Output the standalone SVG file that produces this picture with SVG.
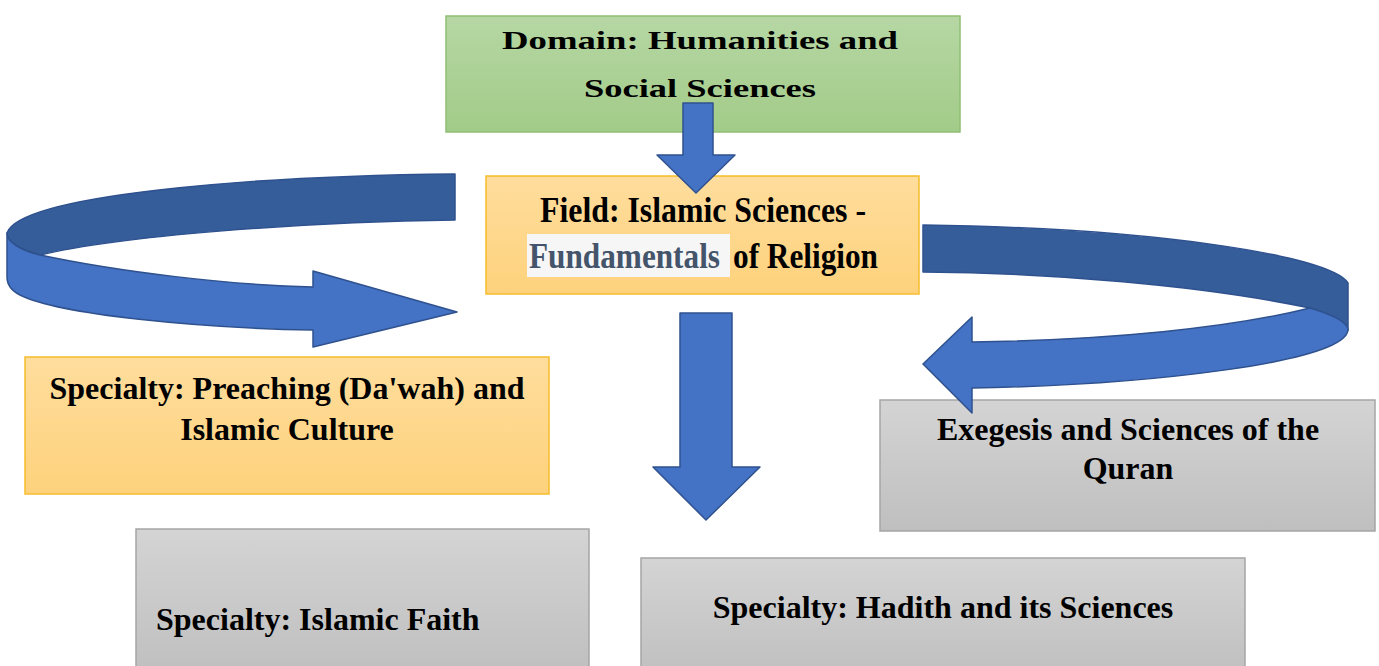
<svg xmlns="http://www.w3.org/2000/svg" width="1379" height="666" viewBox="0 0 1379 666">
<defs>
<linearGradient id="gGreen" x1="0" y1="0" x2="0" y2="1"><stop offset="0" stop-color="#b6d7a4"/><stop offset="1" stop-color="#a2cb88"/></linearGradient>
<linearGradient id="gOrange" x1="0" y1="0" x2="0" y2="1"><stop offset="0" stop-color="#ffdd9d"/><stop offset="1" stop-color="#fed27c"/></linearGradient>
<linearGradient id="gGray" x1="0" y1="0" x2="0" y2="1"><stop offset="0" stop-color="#d4d4d4"/><stop offset="1" stop-color="#bfbfbf"/></linearGradient>
</defs>
<style>
.t{font-family:"Liberation Serif","Times New Roman",serif;font-weight:bold;fill:#000;}
.green{fill:url(#gGreen);stroke:#8fbf74;stroke-width:1.5;}
.orange{fill:url(#gOrange);stroke:#f6bc2a;stroke-width:1.5;}
.gray{fill:url(#gGray);stroke:#a5a5a5;stroke-width:1.5;}
.dark{fill:#355d9a;stroke:#2f528f;stroke-width:1.5;stroke-linejoin:round;}
.light{fill:#4472c4;stroke:#2f528f;stroke-width:1.5;stroke-linejoin:round;}
</style>
<g id="domain">
<rect class="green" x="446" y="16" width="514" height="116"/>
<text class="t" x="502" y="49" font-size="25" textLength="396" lengthAdjust="spacingAndGlyphs" fill="#111">Domain: Humanities and</text>
<text class="t" x="584" y="97" font-size="25" textLength="232" lengthAdjust="spacingAndGlyphs" fill="#111">Social Sciences</text>
</g>
<g id="field">
<rect class="orange" x="486" y="176" width="433" height="118"/>
<text class="t" x="540" y="222" font-size="35" textLength="326" lengthAdjust="spacingAndGlyphs">Field: Islamic Sciences -</text>
<rect x="527" y="234" width="203" height="43" fill="#f6f6f7"/>
<text class="t" x="529" y="268" font-size="35" textLength="191" lengthAdjust="spacingAndGlyphs" style="fill:#44546a">Fundamentals</text>
<text class="t" x="733" y="268" font-size="35" textLength="145" lengthAdjust="spacingAndGlyphs">of Religion</text>
</g>
<g id="preaching">
<rect class="orange" x="25" y="357" width="524" height="137"/>
<text class="t" x="287" y="399" font-size="32" text-anchor="middle">Specialty: Preaching (Da'wah) and</text>
<text class="t" x="287" y="440" font-size="32" text-anchor="middle">Islamic Culture</text>
</g>
<g id="exegesis">
<rect class="gray" x="880" y="400" width="495" height="131"/>
<text class="t" x="1128" y="440" font-size="32" text-anchor="middle">Exegesis and Sciences of the</text>
<text class="t" x="1128" y="479" font-size="32" text-anchor="middle">Quran</text>
</g>
<g id="faith">
<rect class="gray" x="136" y="529" width="453" height="145"/>
<text class="t" x="156" y="630" font-size="32">Specialty: Islamic Faith</text>
</g>
<g id="hadith">
<rect class="gray" x="641" y="558" width="604" height="120"/>
<text class="t" x="943" y="618" font-size="32" text-anchor="middle">Specialty: Hadith and its Sciences</text>
</g>
<g id="connectors">
<path class="light" d="M683,103 L713,103 L713,155 L735,155 L696,193 L657,155 L683,155 Z"/>
<path class="light" d="M680,313 L732,313 L732,467 L760,467 L706,520 L653,467 L680,467 Z"/>
<path class="dark" d="M455,174 L455,220 C300,222 120,236 40,255 C20,250 7,242 7,233 C20,195 250,176 455,174 Z"/>
<path class="light" d="M7,233 C7,242 20,250 40,255 C120,272 230,285 313,287 L313,271 L457,312 L313,347 L313,330 C200,328 60,315 20,295 C10,290 7,284 7,277 Z"/>
<path class="dark" d="M923,225 C1150,228 1330,255 1348,283 L1348,330 C1345,322 1330,314 1310,308 C1200,285 1050,273 923,272 Z"/>
<path class="light" d="M1310,308 C1330,314 1348,322 1348,330 C1345,362 1150,385 972,388 L972,413 L923,364 L972,317 L972,342 C1110,340 1230,328 1310,308 Z"/>
</g>
</svg>
